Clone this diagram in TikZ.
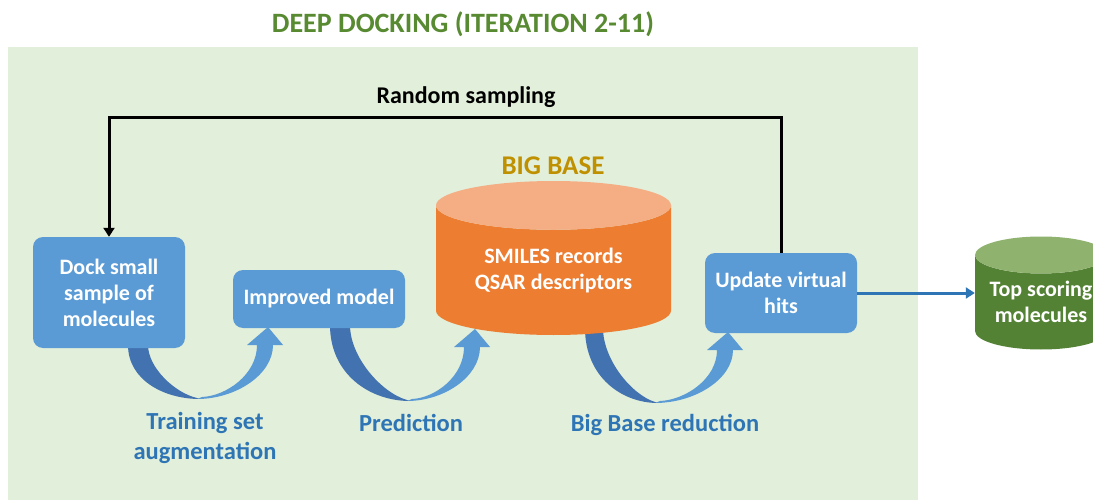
\documentclass[tikz,border=0pt]{standalone}
\usepackage{fontspec}
\setmainfont{Carlito}
\usetikzlibrary{arrows.meta,shapes.geometric}

\definecolor{panelgreen}{RGB}{226,239,218}
\definecolor{titlegreen}{RGB}{88,138,50}
\definecolor{boxblue}{RGB}{91,155,213}
\definecolor{arrowdark}{RGB}{66,114,176}
\definecolor{labelblue}{RGB}{46,117,182}
\definecolor{baseorange}{RGB}{237,125,49}
\definecolor{baselid}{RGB}{245,174,132}
\definecolor{topgreen}{RGB}{84,130,53}
\definecolor{topgreenlid}{RGB}{143,178,110}
\definecolor{basegold}{RGB}{191,144,0}

% curved block arrow: dark band (x left, x right, y top), trough (x,y), head base (x,y)
\def\bendarrow(#1,#2,#3)(#4,#5)(#6,#7){
	\fill[arrowdark] (#1,#3) .. controls (#1,{#3+0.65*(#5-#3)}) and ({#4-0.5*(#4-#1)},#5) .. (#4,#5)
		-- ({#4-3},{#5-1}) .. controls ({#4-0.48*(#4-#2)},{#5-0.11*(#5-#3)}) and (#2,{#3+0.42*(#5-#3)}) .. (#2,#3) -- cycle;
	\fill[boxblue] ({#4-3},#5) .. controls ({#4+0.55*(#6-#4)},#5) and ({#6+8},{#7+0.55*(#5-#7)}) .. ({#6+8},#7)
		-- ({#6+18},#7) -- ({#6+3},{#7-18}) -- ({#6-18},#7) -- ({#6-8},#7)
		.. controls ({#6-8},{#7+0.55*(#5-#7)}) and ({#4+0.4*(#6-#4)},{#5-3}) .. ({#4+2},{#5-2}) -- cycle;
}

\tikzset{
	stepbox/.style={fill=boxblue, rounded corners=10pt, text=white, align=center, inner sep=0pt,
		font=\fontsize{22}{26}\selectfont\bfseries},
	steplabel/.style={text=labelblue, align=center, font=\fontsize{24.5}{30}\selectfont\bfseries},
	drum/.style={cylinder, shape border rotate=90, cylinder uses custom fill, text=white, align=center,
		inner sep=0pt, anchor=shape center, font=\fontsize{22}{26}\selectfont\bfseries},
}

\begin{document}
\begin{tikzpicture}[x=1pt,y=-1pt]
	%%%%% START %%%%%
	\useasboundingbox (0,0) rectangle (1093,500);

	\fill[panelgreen] (8,47) rectangle (918,500);
	\node[text=titlegreen, font=\fontsize{28}{32}\selectfont\bfseries] (title) at (463,24) {DEEP DOCKING (ITERATION 2-11)};

	% curved arrows under the boxes
	\bendarrow(128,148,345)(200,399)(265,345)
	\bendarrow(330,350,325)(410,401)(472,347)
	\bendarrow(585,603,328)(658,403)(725,350)

	\node[stepbox, minimum width=152pt, minimum height=111pt] (dock) at (109,292.5) {Dock small\\sample of\\molecules};
	\node[stepbox, minimum width=172pt, minimum height=58pt] (model) at (319,299) {Improved model};
	\node[stepbox, minimum width=152pt, minimum height=80pt] (hits) at (781,293) {Update virtual\\hits};

	\node[drum, aspect=0.31, minimum width=235pt, minimum height=154pt,
		cylinder body fill=baseorange, cylinder end fill=baselid] (bigbase) at (553.5,258) {SMILES records\\QSAR descriptors};
	\node[text=basegold, font=\fontsize{27}{30}\selectfont\bfseries] (baselabel) at (553,166) {BIG BASE};

	\node[drum, aspect=0.36, minimum width=132pt, minimum height=113pt,
		cylinder body fill=topgreen, cylinder end fill=topgreenlid] (topmol) at (1041,293) {Top scoring\\molecules};

	% feedback loop
	\draw[line width=3pt, -{Triangle[width=11pt,length=9pt]}] (hits.north) -- ++(0,-135) -| (dock.north);
	\node[font=\fontsize{24}{28}\selectfont\bfseries] (sampling) at (466,97) {Random sampling};

	\draw[line width=3pt, labelblue, -{Triangle[width=11pt,length=9pt]}] (hits.east) -- (hits.east -| topmol.west);

	\node[steplabel] (trainlabel) at (205,438) {Training set\\augmentation};
	\node[steplabel] (predlabel) at (411,423) {Prediction};
	\node[steplabel] (reducelabel) at (665,425) {Big Base reduction};

	%%%%% END %%%%%
\end{tikzpicture}
\end{document}
